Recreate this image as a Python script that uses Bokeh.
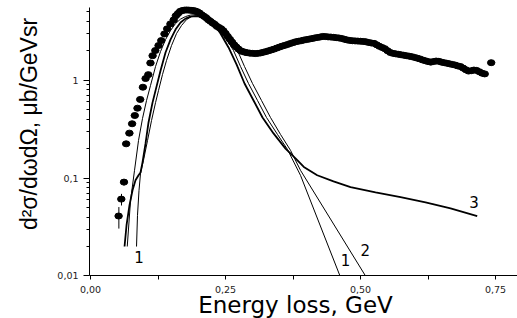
from math import pi
from bokeh.plotting import figure
from bokeh.models import FixedTicker, CustomJSTickFormatter, Label, LinearAxis, LogAxis
from bokeh.core.properties import value
from bokeh.embed import file_html
from bokeh.resources import INLINE

# ---- data (Energy loss in GeV, cross-section in microbarn/GeV sr) ----
dots_x = [0.052, 0.057, 0.062, 0.066, 0.072, 0.077, 0.082, 0.087, 0.092, 0.097,
          0.102, 0.107, 0.111, 0.115, 0.120, 0.126, 0.131, 0.137, 0.142, 0.148,
          0.154, 0.158, 0.162, 0.166, 0.170, 0.174, 0.178, 0.182, 0.186, 0.190,
          0.194, 0.198, 0.202, 0.206, 0.210, 0.214, 0.218, 0.222, 0.226, 0.230,
          0.234, 0.238, 0.242, 0.246, 0.250, 0.254, 0.258, 0.262, 0.266, 0.270,
          0.274, 0.278, 0.282, 0.286, 0.290, 0.295, 0.300, 0.305, 0.310, 0.315,
          0.320, 0.325, 0.330, 0.335, 0.340, 0.345, 0.350, 0.355, 0.360, 0.365,
          0.370, 0.375, 0.380, 0.385, 0.390, 0.395, 0.400, 0.405, 0.410, 0.415,
          0.420, 0.425, 0.430, 0.435, 0.440, 0.445, 0.450, 0.455, 0.460, 0.465,
          0.470, 0.475, 0.480, 0.485, 0.490, 0.495, 0.500, 0.505, 0.510, 0.515,
          0.520, 0.525, 0.530, 0.535, 0.540, 0.545, 0.550, 0.555, 0.560, 0.565,
          0.570, 0.575, 0.580, 0.585, 0.590, 0.595, 0.600, 0.605, 0.610, 0.615,
          0.620, 0.625, 0.630, 0.635, 0.640, 0.645, 0.650, 0.655, 0.660, 0.665,
          0.670, 0.675, 0.680, 0.685, 0.690, 0.695, 0.700, 0.705, 0.710, 0.715,
          0.720, 0.725, 0.730, 0.742]
dots_y = [0.041, 0.061, 0.091, 0.224, 0.288, 0.359, 0.436, 0.518, 0.636, 0.848,
          1.04, 1.14, 1.50, 1.78, 2.01, 2.26, 2.54, 2.97, 3.35, 3.76,
          4.13, 4.55, 4.80, 5.05, 5.15, 5.20, 5.22, 5.20, 5.18, 5.15,
          5.10, 5.00, 4.85, 4.65, 4.50, 4.35, 4.15, 4.00, 3.85, 3.72,
          3.55, 3.45, 3.35, 3.20, 3.00, 2.80, 2.62, 2.45, 2.30, 2.18,
          2.08, 2.00, 1.96, 1.93, 1.91, 1.89, 1.88, 1.87, 1.88, 1.90,
          1.93, 1.96, 2.00, 2.04, 2.08, 2.13, 2.18, 2.23, 2.27, 2.32,
          2.37, 2.42, 2.47, 2.50, 2.53, 2.57, 2.60, 2.63, 2.66, 2.70,
          2.73, 2.76, 2.80, 2.79, 2.77, 2.76, 2.74, 2.72, 2.70, 2.67,
          2.62, 2.58, 2.55, 2.53, 2.52, 2.51, 2.50, 2.49, 2.47, 2.43,
          2.40, 2.38, 2.30, 2.22, 2.16, 2.10, 2.00, 1.92, 1.88, 1.86,
          1.84, 1.82, 1.80, 1.78, 1.76, 1.74, 1.71, 1.68, 1.65, 1.61,
          1.58, 1.55, 1.53, 1.55, 1.57, 1.56, 1.53, 1.51, 1.49, 1.47,
          1.45, 1.43, 1.40, 1.38, 1.33, 1.28, 1.24, 1.25, 1.27, 1.26,
          1.22, 1.18, 1.16, 1.51]

err_x = [0.0525, 0.0574, 0.062]
err_lo = [0.0305, 0.0525, 0.084]
err_hi = [0.0506, 0.069, 0.097]

curve1_x = [0.0852, 0.087, 0.0898, 0.0926, 0.0981, 0.1056, 0.113, 0.1204, 0.1259, 0.1333,
            0.1407, 0.150, 0.1593, 0.1685, 0.1778, 0.187, 0.1963, 0.2056, 0.2148, 0.2241,
            0.2333, 0.2444, 0.2546, 0.2648, 0.2778, 0.2926, 0.3093, 0.3259, 0.3463, 0.3648,
            0.3889, 0.462]
curve1_y = [0.020, 0.0416, 0.0748, 0.112, 0.152, 0.2425, 0.388, 0.59, 0.785, 1.143,
            1.589, 2.26, 3.00, 3.62, 4.16, 4.47, 4.57, 4.52, 4.36, 4.06,
            3.62, 3.00, 2.48, 2.01, 1.38, 0.925, 0.62, 0.416, 0.279, 0.196,
            0.1066, 0.010]

curve2_x = [0.068, 0.0741, 0.0815, 0.0889, 0.0963, 0.1037, 0.1111, 0.1204, 0.1296, 0.1389,
            0.1481, 0.1574, 0.1667, 0.1759, 0.1852, 0.1944, 0.2037, 0.213, 0.2222, 0.2315,
            0.2407, 0.2519, 0.2611, 0.2722, 0.2852, 0.300, 0.3167, 0.3333, 0.3519, 0.3704,
            0.3889, 0.5093]
curve2_y = [0.020, 0.059, 0.12, 0.2425, 0.407, 0.62, 0.883, 1.38, 1.96, 2.60,
            3.21, 3.79, 4.21, 4.47, 4.63, 4.68, 4.63, 4.47, 4.16, 3.79,
            3.29, 2.86, 2.42, 2.01, 1.38, 0.925, 0.62, 0.416, 0.279, 0.192,
            0.12, 0.010]

curve3_x = [0.063, 0.0667, 0.0722, 0.0778, 0.0833, 0.0889, 0.0926, 0.0963, 0.1019, 0.1074,
            0.1148, 0.1222, 0.1296, 0.1389, 0.1481, 0.1574, 0.1667, 0.1759, 0.1852, 0.1944,
            0.2037, 0.213, 0.2222, 0.2315, 0.2407, 0.2556, 0.2704, 0.2852, 0.3019, 0.3185,
            0.3389, 0.3611, 0.3796, 0.395, 0.4198, 0.450, 0.4815, 0.5278, 0.5741, 0.6204,
            0.6667, 0.7161]
curve3_y = [0.020, 0.033, 0.053, 0.075, 0.095, 0.107, 0.114, 0.145, 0.226, 0.37,
            0.59, 0.86, 1.25, 1.92, 2.60, 3.29, 3.88, 4.26, 4.47, 4.52,
            4.47, 4.26, 3.97, 3.53, 3.00, 2.16, 1.45, 0.925, 0.62, 0.416,
            0.286, 0.20, 0.159, 0.13, 0.107, 0.0925, 0.081, 0.0715, 0.064, 0.0565,
            0.049, 0.041]

curve_label_x = [0.0898, 0.472, 0.509, 0.710]
curve_label_y = [0.0155, 0.0145, 0.0186, 0.0569]
curve_label_text = ["1", "1", "2", "3"]

x_ticks = [0.0, 0.25, 0.5, 0.75]
x_minor = [0.125, 0.375, 0.625]
y_ticks = [0.01, 0.1, 1.0]
y_minor = [0.02, 0.03, 0.04, 0.05, 0.06, 0.07, 0.08, 0.09,
           0.2, 0.3, 0.4, 0.5, 0.6, 0.7, 0.8, 0.9, 2, 3, 4, 5]

x_title = "Energy loss, GeV"
y_title = "d\u00b2\u03c3/d\u03c9d\u03a9, \u03bcb/GeVsr"

# ---- layout constants ----
X_LO, X_HI = -0.1667, 0.7907          # full canvas extent in data units
Y_LO, Y_HI = 0.00368, 6.52
X_AXIS_AT, Y_AXIS_AT = 0.01, -0.00185  # where the axes cross
Y_AXIS_TOP = 5.53

p = figure(width=517, height=318, x_range=(X_LO, X_HI), y_range=(Y_LO, Y_HI),
           y_axis_type="log", x_axis_location=None, y_axis_location=None,
           output_backend="svg", toolbar_location=None,
           min_border_left=0, min_border_right=0, min_border_top=0, min_border_bottom=0)
p.xgrid.visible = False
p.ygrid.visible = False
p.outline_line_color = None
p.background_fill_color = "white"
p.border_fill_color = "white"

xa = LinearAxis(fixed_location=X_AXIS_AT, bounds=(Y_AXIS_AT, X_HI))
xa.ticker = FixedTicker(ticks=x_ticks, minor_ticks=x_minor)
xa.formatter = CustomJSTickFormatter(code="return tick.toFixed(2).replace('.', ',');")
xa.major_tick_out = 4
xa.major_tick_in = 0
xa.minor_tick_out = 4
xa.minor_tick_in = 0
xa.axis_line_color = "black"
xa.major_tick_line_color = "black"
xa.minor_tick_line_color = "black"
xa.major_label_text_font = "DejaVu Sans"
xa.major_label_text_font_size = "9.5px"
xa.major_label_text_color = "#222222"
xa.major_label_standoff = 6
p.add_layout(xa, "below")

ya = LogAxis(fixed_location=Y_AXIS_AT, bounds=(X_AXIS_AT, Y_AXIS_TOP))
ya.ticker = FixedTicker(ticks=y_ticks, minor_ticks=y_minor)
ya.formatter = CustomJSTickFormatter(
    code="if (tick >= 1) { return tick.toFixed(0); } return tick.toString().replace('.', ',');")
ya.major_tick_out = 6
ya.major_tick_in = 0
ya.minor_tick_out = 3
ya.minor_tick_in = 0
ya.axis_line_color = "black"
ya.major_tick_line_color = "black"
ya.minor_tick_line_color = "black"
ya.major_label_text_font = "DejaVu Sans"
ya.major_label_text_font_size = "9.5px"
ya.major_label_text_color = "#222222"
ya.major_label_standoff = 5
p.add_layout(ya, "left")

# error bars and data points
p.segment(x0=err_x, y0=err_lo, x1=err_x, y1=err_hi, line_color="black", line_width=1)
p.ellipse(x=dots_x, y=dots_y, width=7.5, height=6, width_units="screen",
          height_units="screen", fill_color="black", line_color="black")

# model curves
p.line(curve1_x, curve1_y, line_color="black", line_width=1)
p.line(curve2_x, curve2_y, line_color="black", line_width=1)
p.line(curve3_x, curve3_y, line_color="black", line_width=1.8)

p.text(x=curve_label_x, y=curve_label_y, text=curve_label_text,
       text_font=value("DejaVu Sans"), text_font_size="15px",
       text_align="center", text_baseline="middle", text_color="black")

# axis titles
p.add_layout(Label(x=0.3796, y=0.0051, text=x_title, text_font="DejaVu Sans",
                   text_font_size="23px", text_align="center",
                   text_baseline="middle", text_color="black"))
p.add_layout(Label(x=-0.1130, y=0.357, angle=pi / 2, text=y_title,
                   text_font="Liberation Sans", text_font_size="23px",
                   text_align="center", text_baseline="middle", text_color="black"))

open("out.html", "w").write(file_html(p, INLINE))
